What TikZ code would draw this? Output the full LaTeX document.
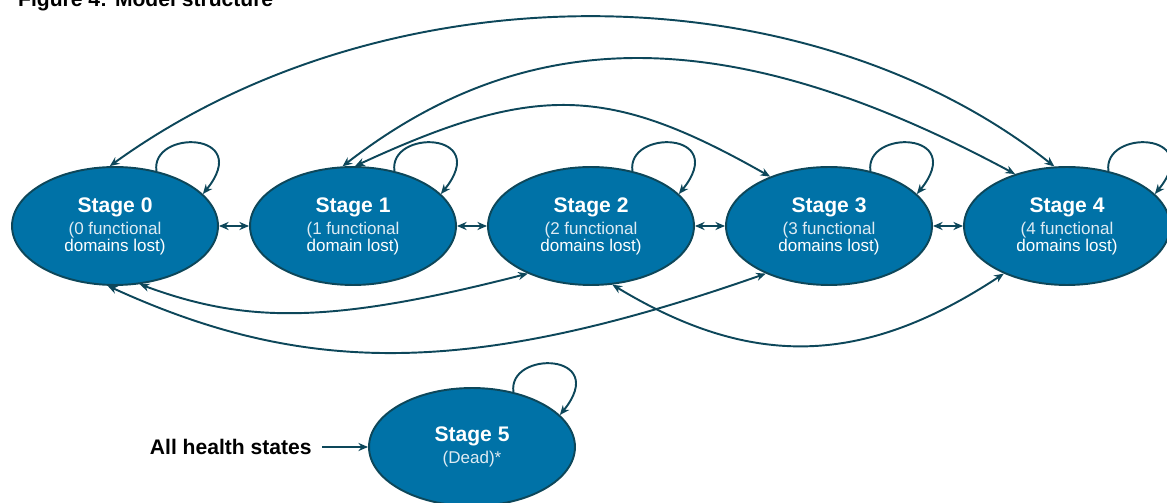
\documentclass[tikz,border=0pt]{standalone}
\usepackage{fontspec}
\setmainfont{Liberation Sans}
\usetikzlibrary{shapes.geometric,arrows.meta}

\definecolor{stagefill}{RGB}{0,114,167}
\definecolor{stageline}{RGB}{13,71,90}
\definecolor{subtext}{RGB}{222,235,243}

\tikzset{
  stage/.style={ellipse, draw=stageline, fill=stagefill, line width=1.1pt,
    minimum width=4.12cm, minimum height=2.36cm, inner sep=0pt, align=center,
    text=white, font=\fontsize{9.7}{9.7}\selectfont},
  tip/.tip={Stealth[length=5.5pt,width=4.6pt]},
  trans/.style={draw=stageline, line width=1.1pt, tip-tip},
  oneway/.style={draw=stageline, line width=1.1pt, -tip}
}
\newcommand{\stagelabel}[2]{{\fontsize{12}{12}\selectfont\bfseries #1}\\[2.8pt]\color{subtext}#2}

\begin{document}
\begin{tikzpicture}[x=0.02cm, y=-0.02cm]
  \useasboundingbox (0,0) rectangle (1167,503);

  \node[anchor=base west, font=\fontsize{12}{12}\selectfont\bfseries] (title) at (12,6.5) {Figure 4: Model structure};

  % Zustaende
  \node[stage] (s0) at (115,226) {\stagelabel{Stage 0}{(0 functional\\domains lost)}};
  \node[stage] (s1) at (353,226) {\stagelabel{Stage 1}{(1 functional\\domain lost)}};
  \node[stage] (s2) at (591,226) {\stagelabel{Stage 2}{(2 functional\\domains lost)}};
  \node[stage] (s3) at (829,226) {\stagelabel{Stage 3}{(3 functional\\domains lost)}};
  \node[stage] (s4) at (1067,226) {\stagelabel{Stage 4}{(4 functional\\domains lost)}};
  \node[stage] (s5) at (472,447) {\stagelabel{Stage 5}{(Dead)*}};

  \node[anchor=east, inner xsep=5.7pt, inner ysep=0pt, font=\fontsize{12}{12}\selectfont\bfseries] (all) at (322,447) {All health states};

  % Nachbarn
  \draw[trans] (s0) -- (s1);
  \draw[trans] (s1) -- (s2);
  \draw[trans] (s2) -- (s3);
  \draw[trans] (s3) -- (s4);

  % oben
  \draw[trans] (s0.95) .. controls +(277,-200) and +(-250,-198) .. (s4.102);
  \draw[trans] (s1.100) .. controls +(187,-145) and +(-283,-152) .. (s4.135);
  \draw[trans] (s1.88) .. controls +(180,-83) and +(-162,-92) .. (s3.140);

  % unten
  \draw[trans] (s0.293) .. controls +(106,39) and +(-199,51) .. (s2.217);
  \draw[trans] (s0.263) .. controls +(197,90) and +(-297,104) .. (s3.217);
  \draw[trans] (s2.290) .. controls +(139,84) and +(-141,93) .. (s4.217);

  % Schleifen
  \draw[oneway] (s0.53) .. controls +(-6,-42) and +(51,-63) .. (s0.20);
  \draw[oneway] (s1.53) .. controls +(-6,-42) and +(51,-63) .. (s1.20);
  \draw[oneway] (s2.53) .. controls +(-6,-42) and +(51,-63) .. (s2.20);
  \draw[oneway] (s3.53) .. controls +(-6,-42) and +(51,-63) .. (s3.20);
  \draw[oneway] (s4.53) .. controls +(-6,-42) and +(51,-63) .. (s4.20);
  \draw[oneway] (s5.53) .. controls +(-6,-42) and +(51,-63) .. (s5.20);

  \draw[oneway] (all) -- (s5);
\end{tikzpicture}
\end{document}
